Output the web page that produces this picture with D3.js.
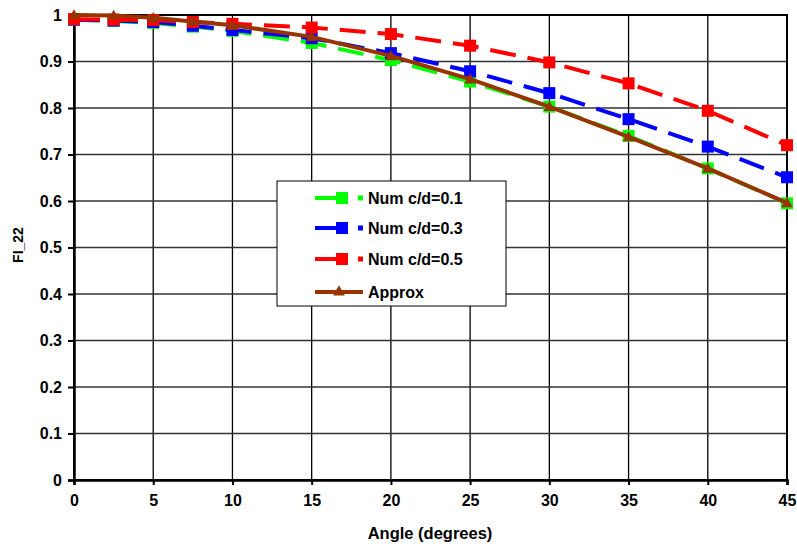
<!DOCTYPE html>
<html>
<head>
<meta charset="utf-8">
<script src="https://cdn.jsdelivr.net/npm/d3@7"></script>
<style>
  body { margin: 0; background: #fff; }
  text { font-family: Arial, "Liberation Sans", sans-serif; font-weight: bold; }
</style>
</head>
<body>
<div id="chart"></div>
<script>
// data
var angles = [0, 2.5, 5, 7.5, 10, 15, 20, 25, 30, 35, 40, 45];
var num01 = [0.990, 0.987, 0.983, 0.975, 0.966, 0.940, 0.903, 0.857, 0.803, 0.740, 0.670, 0.595];
var num03 = [0.990, 0.988, 0.985, 0.977, 0.968, 0.950, 0.918, 0.879, 0.832, 0.776, 0.717, 0.651];
var num05 = [0.991, 0.990, 0.989, 0.985, 0.981, 0.973, 0.959, 0.934, 0.898, 0.853, 0.794, 0.720];
var approx = [1.000, 0.999, 0.994, 0.986, 0.978, 0.953, 0.912, 0.862, 0.803, 0.738, 0.670, 0.596];
var xTicks = [0, 5, 10, 15, 20, 25, 30, 35, 40, 45];
var yTicks = [0, 0.1, 0.2, 0.3, 0.4, 0.5, 0.6, 0.7, 0.8, 0.9, 1];

var series = [
  {name: "Num c/d=0.1", values: num01, color: "#00ff00", dash: "26,12", marker: "square"},
  {name: "Num c/d=0.3", values: num03, color: "#0000ff", dash: "26,12", marker: "square"},
  {name: "Num c/d=0.5", values: num05, color: "#ff0000", dash: "26,12", marker: "square"},
  {name: "Approx", values: approx, color: "#993300", dash: null, marker: "triangle"}
];

var W = 797, H = 546;
var margin = {top: 15, left: 74},
    width = 787 - margin.left,
    height = 480 - margin.top;

var svg = d3.select("#chart").append("svg")
    .attr("width", W)
    .attr("height", H);

var g = svg.append("g")
    .attr("transform", "translate(" + margin.left + "," + margin.top + ")");

var x = d3.scaleLinear().domain([0, 45]).range([0, width]);
var y = d3.scaleLinear().domain([0, 1]).range([height, 0]);

// grid
g.append("g").selectAll("line").data(xTicks).enter().append("line")
    .attr("x1", d => x(d)).attr("x2", d => x(d))
    .attr("y1", 0).attr("y2", height)
    .attr("stroke", "#000").attr("stroke-width", 1.3);
g.append("g").selectAll("line").data(yTicks).enter().append("line")
    .attr("x1", 0).attr("x2", width)
    .attr("y1", d => y(d)).attr("y2", d => y(d))
    .attr("stroke", "#333").attr("stroke-width", 1.3);

// frame
g.append("rect")
    .attr("width", width).attr("height", height)
    .attr("fill", "none").attr("stroke", "#000").attr("stroke-width", 2);

// axes
var xAxis = g.append("g")
    .attr("transform", "translate(0," + height + ")")
    .call(d3.axisBottom(x).tickValues(xTicks).tickSize(5).tickPadding(10).tickFormat(d3.format("d")));
var yAxis = g.append("g")
    .call(d3.axisLeft(y).tickValues(yTicks).tickSize(6).tickPadding(6).tickFormat(d => d === 0 || d === 1 ? d : d3.format(".1f")(d)));
[xAxis, yAxis].forEach(function(a) {
  a.select(".domain").attr("stroke-width", 2.5);
  a.selectAll(".tick line").attr("stroke-width", 2);
  a.selectAll("text").attr("font-size", 16).attr("fill", "#000")
    .style("font-family", "Arial, 'Liberation Sans', sans-serif").style("font-weight", "bold");
});

// axis titles
svg.append("text")
    .attr("x", 430).attr("y", 539)
    .attr("text-anchor", "middle").attr("font-size", 16.5)
    .text("Angle (degrees)");
svg.append("text")
    .attr("transform", "translate(23,245) rotate(-90)")
    .attr("text-anchor", "middle").attr("font-size", 14)
    .text("FI_22");

var line = d3.line()
    .x((d, i) => x(angles[i]))
    .y(d => y(d));

var tri = d3.symbol().type(d3.symbolTriangle).size(60);

series.forEach(function(s) {
  g.append("path")
    .datum(s.values)
    .attr("d", line)
    .attr("fill", "none")
    .attr("stroke", s.color)
    .attr("stroke-width", 4)
    .attr("stroke-dasharray", s.dash);
  if (s.marker === "square") {
    g.append("g").selectAll("rect").data(s.values).enter().append("rect")
      .attr("x", (d, i) => x(angles[i]) - 6)
      .attr("y", d => y(d) - 6)
      .attr("width", 12).attr("height", 12)
      .attr("fill", s.color);
  } else {
    g.append("g").selectAll("path").data(s.values).enter().append("path")
      .attr("d", tri)
      .attr("transform", (d, i) => "translate(" + x(angles[i]) + "," + (y(d) + 1) + ")")
      .attr("fill", s.color);
  }
});

// legend
var lg = svg.append("g").attr("transform", "translate(277,181)");
lg.append("rect")
    .attr("width", 229).attr("height", 125)
    .attr("fill", "#fff").attr("stroke", "#000").attr("stroke-width", 1);
var rowY = [17, 47, 78, 111];
series.forEach(function(s, i) {
  var r = lg.append("g").attr("transform", "translate(0," + rowY[i] + ")");
  if (s.marker === "square") {
    r.append("line").attr("x1", 38).attr("x2", 66).attr("y1", 0).attr("y2", 0)
      .attr("stroke", s.color).attr("stroke-width", 4);
    r.append("rect").attr("x", 59).attr("y", -6).attr("width", 12).attr("height", 12).attr("fill", s.color);
    r.append("rect").attr("x", 81).attr("y", -2.5).attr("width", 5).attr("height", 5).attr("fill", s.color);
    r.append("text").attr("x", 91).attr("y", 6).attr("font-size", 16).text(s.name);
  } else {
    r.append("line").attr("x1", 38).attr("x2", 86).attr("y1", 0).attr("y2", 0)
      .attr("stroke", s.color).attr("stroke-width", 4);
    r.append("path").attr("d", tri).attr("transform", "translate(62,0)").attr("fill", s.color);
    r.append("text").attr("x", 91).attr("y", 6).attr("font-size", 16).text(s.name);
  }
});
</script>
</body>
</html>
